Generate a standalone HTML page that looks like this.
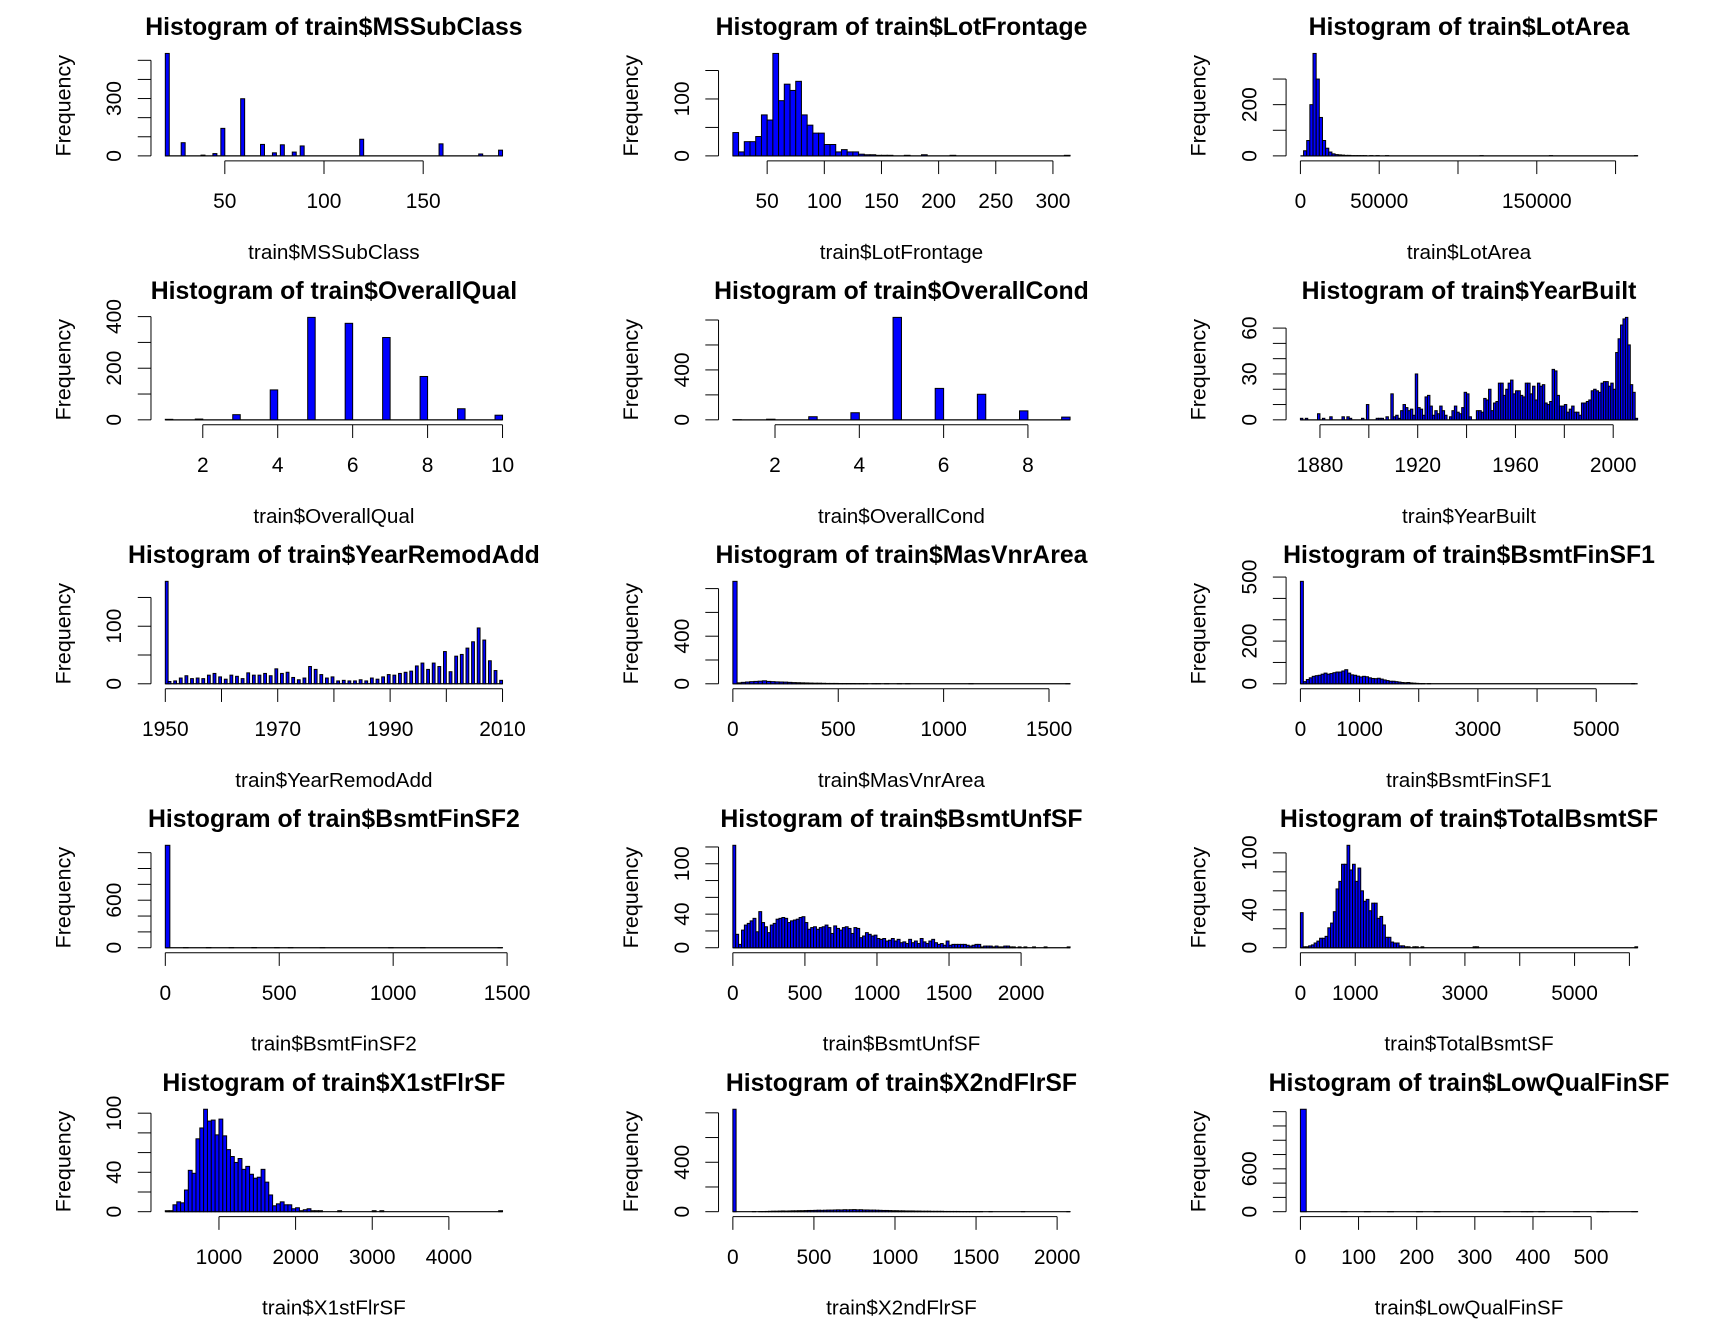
<!DOCTYPE html>
<html><head><meta charset="utf-8"><title>Histograms</title>
<style>html,body{margin:0;padding:0;background:#fff;}svg{display:block;}
text{font-family:"Liberation Sans",Arial,sans-serif;fill:#000;}</style></head>
<body>
<svg id="fig" xmlns="http://www.w3.org/2000/svg" width="1728" height="1344" viewBox="0 0 1568 1220" preserveAspectRatio="none"></svg>
<script>
// ---- data arrays ----
const titles = ["MSSubClass","LotFrontage","LotArea","OverallQual","OverallCond","YearBuilt","YearRemodAdd","MasVnrArea","BsmtFinSF1","BsmtFinSF2","BsmtUnfSF","TotalBsmtSF","X1stFlrSF","X2ndFlrSF","LowQualFinSF"];
const binStart = [20,20,0,1,1,1872,1950,0,0,0,0,0,300,0,0];
const binWidth = [2,5,2000,0.2,0.2,1,0.5,20,50,20,20,50,50,20,10];
const binCount = [85,59,107,45,40,138,120,80,114,74,117,123,88,104,58];

// dense bin counts (from first break) per panel
const denseCounts = [
 [],
 [41,7,25,25,34,72,63,180,97,126,115,131,72,54,40,40,20,20,7,11,7,7,3,2,2,1,1,1,0,0,1,0,0,2,0,0,0,0,1],
 [0,20,60,200,400,300,150,60,30,15,8,5,4,3,2,2,1,1,1,1,1,0,1,0,1,0,0,1],
 [],[],[],[],
 [861,8,12,15,18,20,22,25,20,18,16,15,14,12,10,9,8,7,6,5,5,4,3,3,3,2,2,2,2,1,1,1,0,1,1,0,1,0,0,1,0,1],
 [480,10,20,28,35,38,40,45,50,45,48,52,55,55,60,66,50,42,40,36,32,35,33,28,25,24,26,22,18,15,12,12,10,8,6,5,6,4,3,2,1,1,0,1],
 [1293],
 [122,16,4,21,27,29,32,35,19,43,30,25,18,27,29,34,35,36,35,30,32,33,34,36,37,30,22,24,25,22,24,25,27,24,17,26,23,21,24,25,23,17,24,23,12,14,18,16,14,15,11,10,11,8,9,11,8,10,6,7,5,10,6,8,5,11,7,5,8,10,6,4,5,3,8,3,4,4,4,4,4,3,2,3,4,4,1,2,2,2,1,2,1,1,2,2,1,1,0,1,0,1,0,0,1,0,0,0,1],
 [37,1,1,2,3,5,7,10,10,12,21,26,38,62,70,88,88,108,82,88,70,84,60,49,51,39,47,47,31,33,24,11,11,6,5,5,2,2,1,1,0,1,1,0,1],
 [1,1,7,10,9,22,42,39,74,85,104,92,93,78,94,77,63,56,50,54,43,46,38,34,35,43,30,17,6,8,10,7,7,3,4,1,2,3,1,1,1],
 [829,0,0,0,0,0,1,0,1,1,2,3,4,4,5,6,5,6,7,7,8,8,9,10,10,11,12,11,12,13,13,14,15,14,16,15,16,17,15,16,14,14,13,13,12,11,10,10,9,8,8,7,7,6,6,6,5,5,4,4,4,3,3,3,3,2,2,2,2,2,1,1,1,1,1,1,1,0,0,1],
 [1434]
];
// data values with counts (binned into the breaks)
const pointValues = [
 [20,30,40,45,50,60,70,75,80,85,90,120,160,180,190],
 [313],
 [115000,160000,214000],
 [1,2,3,4,5,6,7,8,9,10],
 [1,2,3,4,5,6,7,8,9],
 [1872,1875,1880,1882,1885,1890,1892,1893,1898,1900,1904,1905,1906,1908,1910,1911,1912,1913,1914,1915,1916,1917,1918,1919,1920,1921,1922,1923,1924,1925,1926,1927,1928,1929,1930,1931,1932,1934,1935,1936,1937,1938,1939,1940,1941,1942,1945,1946,1947,1948,1949,1950,1951,1952,1953,1954,1955,1956,1957,1958,1959,1960,1961,1962,1963,1964,1965,1966,1967,1968,1969,1970,1971,1972,1973,1974,1975,1976,1977,1978,1979,1980,1981,1982,1983,1984,1985,1986,1987,1988,1989,1990,1991,1992,1993,1994,1995,1996,1997,1998,1999,2000,2001,2002,2003,2004,2005,2006,2007,2008,2009,2010],
 [1950,1951,1952,1953,1954,1955,1956,1957,1958,1959,1960,1961,1962,1963,1964,1965,1966,1967,1968,1969,1970,1971,1972,1973,1974,1975,1976,1977,1978,1979,1980,1981,1982,1983,1984,1985,1986,1987,1988,1989,1990,1991,1992,1993,1994,1995,1996,1997,1998,1999,2000,2001,2002,2003,2004,2005,2006,2007,2008,2009,2010],
 [1129,1600],
 [5644],
 [100,200,300,400,500,550,700,1000,1127,1474],
 [2336],
 [3200,3250,6110],
 [2600,3050,3150,4692],
 [1796,2065],
 [80,120,156,205,234,360,390,397,420,473,479,513,515,528,572]
];
const pointCounts = [
 [536,69,4,12,144,299,60,16,58,20,52,87,63,10,30],
 [1],
 [1,1,1],
 [2,3,20,116,397,374,319,168,43,18],
 [1,5,25,57,821,252,205,72,22],
 [1,1,4,1,2,2,2,1,1,10,1,1,1,2,17,2,3,1,6,10,8,6,7,3,30,8,7,3,15,16,9,3,6,4,9,6,3,2,6,9,5,4,8,18,17,2,6,6,5,14,13,20,6,11,12,24,24,16,20,24,26,17,19,19,16,15,24,24,17,22,13,24,22,23,11,10,12,33,32,16,9,9,10,5,7,9,5,5,3,11,11,12,13,19,20,19,18,24,25,25,22,24,20,44,53,62,66,67,49,23,18,1],
 [178,4,5,10,14,9,10,9,15,18,12,8,15,13,9,19,15,15,18,14,26,18,20,11,7,10,30,25,16,10,12,5,6,5,5,7,5,10,8,12,16,15,18,20,22,31,36,25,36,30,56,21,48,51,62,73,97,76,40,23,6],
 [1,1],
 [1],
 [2,3,2,3,2,2,1,1,1,1],
 [1],
 [1,1,1],
 [1,1,1,1],
 [1,1],
 [1,1,1,1,1,1,1,1,1,1,1,1,1,1,1]
];
const yTicks = [
 [0,100,200,300,400,500],[0,50,100,150],[0,100,200,300],[0,100,200,300,400],[0,200,400,600,800],
 [0,10,20,30,40,50,60],[0,50,100,150],[0,200,400,600,800],[0,100,200,300,400,500],[0,200,400,600,800,1000,1200],
 [0,20,40,60,80,100,120],[0,20,40,60,80,100],[0,20,40,60,80,100],[0,200,400,600,800],[0,200,400,600,800,1000,1200,1400]
];
const yLabels = [
 ["0","300"],["0","100"],["0","200"],["0","200","400"],["0","400"],
 ["0","30","60"],["0","100"],["0","400"],["0","200","500"],["0","600"],
 ["0","40","100"],["0","40","100"],["0","40","100"],["0","400"],["0","600"]
];
const xTicks = [
 [50,100,150],[50,100,150,200,250,300],[0,50000,100000,150000,200000],[2,4,6,8,10],[2,4,6,8],
 [1880,1900,1920,1940,1960,1980,2000],[1950,1960,1970,1980,1990,2000,2010],[0,500,1000,1500],[0,1000,2000,3000,4000,5000],[0,500,1000,1500],
 [0,500,1000,1500,2000],[0,1000,2000,3000,4000,5000,6000],[1000,2000,3000,4000],[0,500,1000,1500,2000],[0,100,200,300,400,500]
];
const xLabels = [
 ["50","100","150"],["50","100","150","200","250","300"],["0","50000","150000"],["2","4","6","8","10"],["2","4","6","8"],
 ["1880","1920","1960","2000"],["1950","1970","1990","2010"],["0","500","1000","1500"],["0","1000","3000","5000"],["0","500","1000","1500"],
 ["0","500","1000","1500","2000"],["0","1000","3000","5000"],["1000","2000","3000","4000"],["0","500","1000","1500","2000"],["0","100","200","300","400","500"]
];

// ---- rendering ----
const NS = "http://www.w3.org/2000/svg";
const svg = document.getElementById("fig");
function mk(tag, attrs, parent){ const e=document.createElementNS(NS,tag); for(const k in attrs) e.setAttribute(k,attrs[k]); (parent||svg).appendChild(e); return e; }

titles.forEach((name, p) => {
  const col = p % 3, row = Math.floor(p / 3);
  const dx = 515 * col, dy = 239.6 * row;
  const g = mk("g", {});
  
  
  const b0 = binStart[p], bw = binWidth[p], nb = binCount[p];
  const X0 = 150 + dx, XW = 306, base = 141.5 + dy, HMAX = 93;
  const xAt = v => X0 + (v - b0) / (nb * bw) * XW;
  const counts = new Array(nb).fill(0);
  denseCounts[p].forEach((c, i) => { if (i < nb) counts[i] += c; });
  pointValues[p].forEach((v, i) => {
    let idx = Math.ceil((v - b0) / bw - 1e-9) - 1;
    idx = Math.max(0, Math.min(nb - 1, idx));
    counts[idx] += pointCounts[p][i];
  });
  const M = Math.max(...counts);
  const yAt = c => base - c / M * HMAX;
  // baseline under all bins (zero-height bars)
  const bl = mk("line", {x1: xAt(b0), x2: xAt(b0 + nb * bw), y1: base, y2: base, stroke: "#000", "stroke-width": 1.1}, g);
  
  
  counts.forEach((c, i) => {
    if (c <= 0) return;
    const x1 = xAt(b0 + i * bw), x2 = xAt(b0 + (i + 1) * bw);
    const r = mk("rect", {x: x1, y: yAt(c), width: x2 - x1, height: base - yAt(c), fill: "#0000ff", stroke: "#000", "stroke-width": 0.9}, g);
    
    
  });
  // y axis
  const yt = yTicks[p];
  const ya = mk("line", {x1: 137 + dx, x2: 137 + dx, y1: yAt(yt[0]), y2: yAt(yt[yt.length - 1]), stroke: "#000", "stroke-width": 0.9}, g);
  
  
  yt.forEach(t => {
    mk("line", {x1: 137 + dx, x2: 125 + dx, y1: yAt(t), y2: yAt(t), stroke: "#000", "stroke-width": 0.9}, g);
  });
  yLabels[p].forEach(l => {
    const y = yAt(+l);
    const t = mk("text", {x: 0, y: 0, "font-size": 19, "text-anchor": "middle", transform: `translate(${110 + dx},${y}) rotate(-90)`}, g);
    t.textContent = l;
    
    
  });
  const yl = mk("text", {x: 0, y: 0, "font-size": 19.5, "text-anchor": "middle", transform: `translate(${64 + dx},${96 + dy}) rotate(-90)`}, g);
  yl.textContent = "Frequency";
  
  
  // x axis
  const xt = xTicks[p];
  const xa = mk("line", {x1: xAt(xt[0]), x2: xAt(xt[xt.length - 1]), y1: 146 + dy, y2: 146 + dy, stroke: "#000", "stroke-width": 0.9}, g);
  
  
  xt.forEach(t => {
    mk("line", {x1: xAt(t), x2: xAt(t), y1: 146 + dy, y2: 158 + dy, stroke: "#000", "stroke-width": 0.9}, g);
  });
  xLabels[p].forEach(l => {
    const t = mk("text", {x: xAt(+l), y: 189 + dy, "font-size": 19, "text-anchor": "middle"}, g);
    t.textContent = l;
    
    
  });
  const xl = mk("text", {x: 303 + dx, y: 235 + dy, "font-size": 18.8, "text-anchor": "middle"}, g);
  xl.textContent = "train$" + name;
  
  
  const tt = mk("text", {x: 303 + dx, y: 32 + dy, "font-size": 22.5, "font-weight": "bold", "text-anchor": "middle"}, g);
  tt.textContent = "Histogram of train$" + name;
  
  
});
</script>
</body></html>
